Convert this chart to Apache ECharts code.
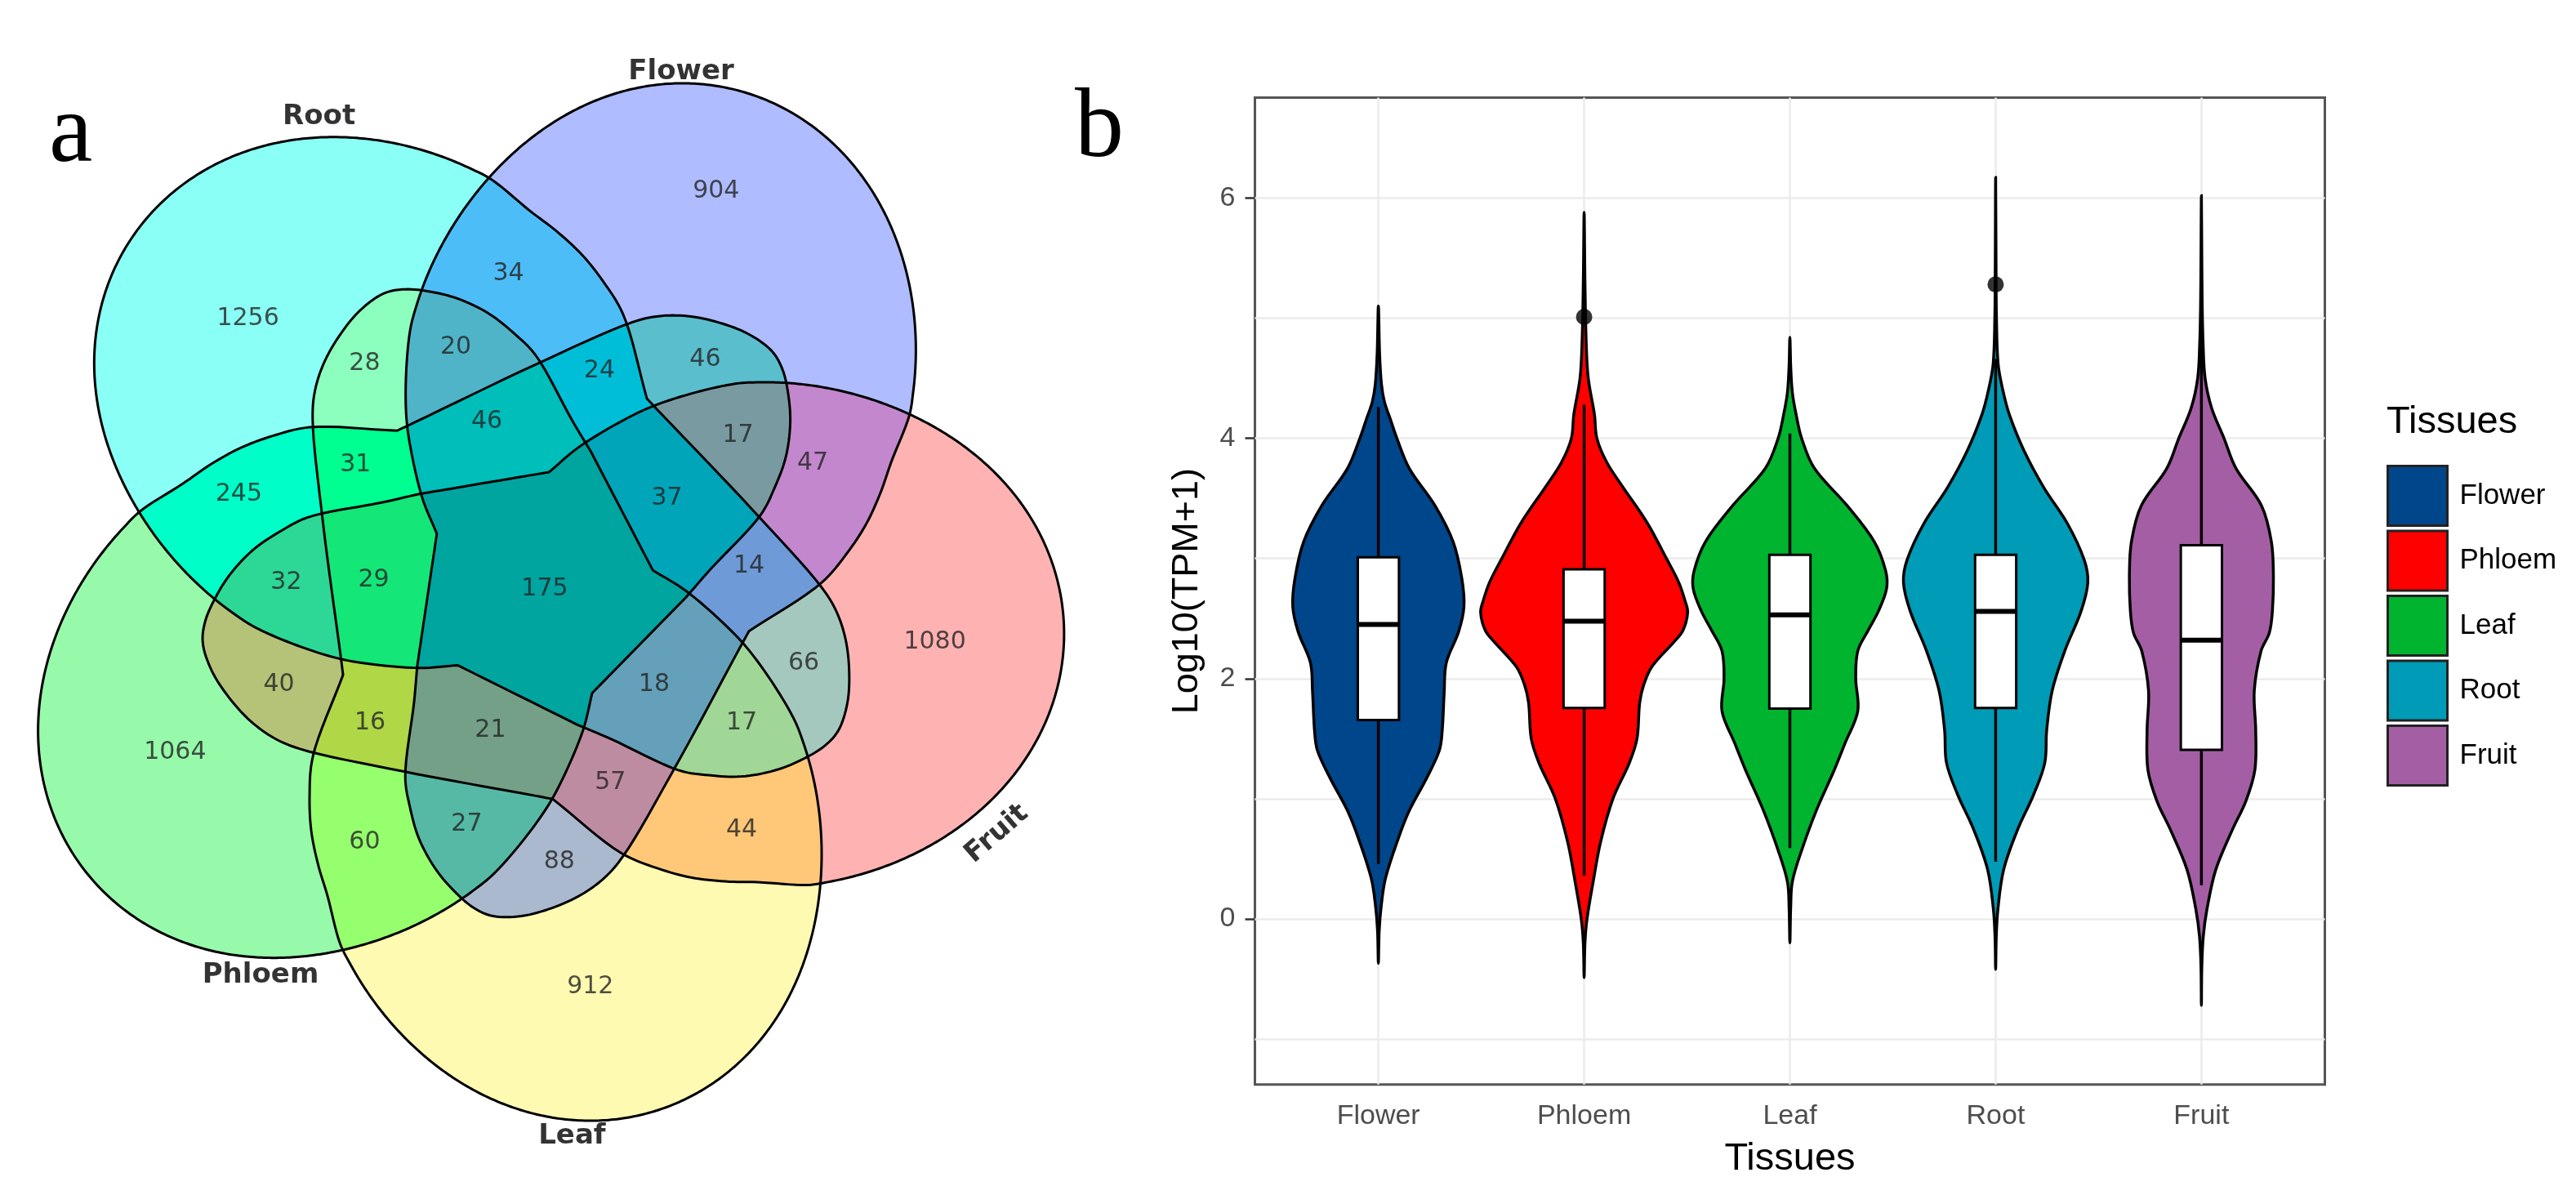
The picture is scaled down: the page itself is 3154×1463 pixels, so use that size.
<!DOCTYPE html>
<html><head><meta charset="utf-8">
<script src="https://cdn.jsdelivr.net/npm/echarts@6.0.0/dist/echarts.min.js"></script>
<style>html,body{margin:0;padding:0;background:#fff}#c{width:3154px;height:1463px}</style>
</head><body><div id="c"></div>
<script>
// ================= Panel a : five-set Venn =================
const vennSets = ['Root', 'Flower', 'Fruit', 'Leaf', 'Phloem'];
// region counts (singles, adjacent pairs, distant pairs, triples, quadruples, all five)
const vennCounts = [1256, 904, 1080, 912, 1064,
  34, 47, 44, 60, 245,
  28, 46, 66, 88, 40,
  20, 24, 17, 14, 17, 57, 27, 16, 32, 31,
  46, 37, 18, 21, 29,
  175];
// which sets (indices into vennSets) each region belongs to
const vennRegionSets = [[0], [1], [2], [3], [4],
  [0, 1], [1, 2], [2, 3], [3, 4], [4, 0],
  [0, 3], [1, 4], [2, 0], [3, 1], [4, 2],
  [0, 1, 3], [0, 1, 4], [1, 2, 4], [0, 1, 2], [0, 2, 3], [1, 2, 3], [1, 3, 4], [2, 3, 4], [0, 2, 4], [0, 3, 4],
  [0, 1, 3, 4], [0, 1, 2, 4], [0, 1, 2, 3], [1, 2, 3, 4], [0, 2, 3, 4],
  [0, 1, 2, 3, 4]];
const vennRegionColors = ['#8AFFF5', '#AFBCFF', '#FFB2B2', '#FFFAB2', '#96FAAA',
  '#4DBDF8', '#C387CD', '#FFC878', '#96FF6E', '#00FFC8',
  '#8CFFBE', '#5ABECD', '#A5C8BE', '#AAB9CD', '#B4C378',
  '#50B4C8', '#00BED7', '#789AA0', '#6E9BD7', '#A0D796', '#BE8CA0', '#55B9A5', '#AFD746', '#2DD796', '#00FF91',
  '#00BEB9', '#00A5B9', '#64A0B9', '#73A087', '#14E678',
  '#00A5A0'];
// label anchor of each region (venn layout space, centre = 0,0)
const vennLabelXY = [[-348.8, 318.3], [224.4, 473.7], [492.2, -78.5], [70.4, -500.4], [-438.1, -213.3],
  [-29.9, 373.3], [342.6, 141.3], [255.6, -308.2], [-206.0, -322.8], [-360.0, 103.1],
  [-206.0, 263.3], [211.0, 268.1], [331.6, -103.9], [32.4, -347.1], [-310.9, -130.6],
  [-94.4, 282.4], [81.5, 253.7], [251.2, 174.8], [264.6, 14.6], [255.6, -176.9], [94.9, -249.9], [-81.0, -300.9], [-199.3, -176.8], [-302.0, -5.6], [-217.1, 138.9],
  [-56.4, 191.5], [164.1, 98.3], [148.5, -130.6], [-52.0, -186.5], [-194.8, -2.2],
  [14.6, -12.9]];
const vennNameXY = [[-261.8, 564.6], [181.6, 619.6], [568.1, -312.9], [48.0, -682.9], [-333.4, -485.9]];
const vennNameRotate = [0, 0, 41, 0, 0];
// traced outline of one set (Root orientation): inner boundary (third value 1 = corner) and outer lobe;
// the other four sets are the same outline turned in 72 degree steps (plus a small shift each)
const vennInner = [[-3.4, 449.8], [28.0, 425.9], [59.2, 397.2], [86.0, 363.7], [110.6, 323.1],
  [139.6, 220.2, 1], [153.0, 205.9, 1], [269.0, 83.9],
  [353.9, -11.4], [371.7, -40.6], [382.9, -74.6], [387.3, -113.6], [385.1, -152.5], [373.9, -186.5],
  [356.1, -206.0], [327.1, -223.0], [295.8, -235.2], [255.6, -242.5], [215.5, -241.0], [179.6, -235.2],
  [94.9, -196.3], [54.6, -179.2, 1], [-92.1, -106.3, 1], [-139.0, -109.7], [-206.0, -103.9], [-243.9, -96.5],
  [-295.4, -79.5]];
const vennLobe = [[-339.9, -55.2], [-384.4, -32.9], [-411.4, -9.4], [-451.4, 38.5], [-489.4, 91.1],
  [-514.0, 143.7], [-529.6, 201.1], [-534.1, 263.3], [-529.6, 325.5], [-505.1, 392.4], [-464.9, 454.6],
  [-411.4, 497.6], [-339.9, 524.0], [-235.0, 538.3], [-116.7, 516.8], [-49.7, 490.5]];
const vennLobeCentre = [-250, 240];
const vennShift = [[0, 0], [12, 0], [8, -10], [10, -22], [0, -20]];

// ================= Panel b : violins =================
const tissues = ['Flower', 'Phloem', 'Leaf', 'Root', 'Fruit'];
const tissueColors = ['#00468B', '#FF0000', '#00B42F', '#009BB6', '#A45EA4'];
// density outline: [log10(TPM+1), half width]
const violinFlower = [[5.10, 0], [4.7, 0.006], [4.45, 0.015], [4.3, 0.03], [4.15, 0.06], [4.0, 0.09], [3.75, 0.15], [3.44, 0.275], [3.14, 0.363], [2.84, 0.405], [2.6, 0.416], [2.39, 0.39], [2.13, 0.33], [1.89, 0.32], [1.56, 0.31], [1.40, 0.296], [1.17, 0.234], [0.9, 0.15], [0.67, 0.097], [0.34, 0.035], [0.11, 0.014], [-0.1, 0.004], [-0.37, 0]];
const violinPhloem = [[5.88, 0], [5.3, 0.004], [4.8, 0.01], [4.5, 0.02], [4.2, 0.05], [4.0, 0.062], [3.8, 0.11], [3.6, 0.186], [3.3, 0.305], [3.0, 0.40], [2.8, 0.46], [2.65, 0.49], [2.55, 0.503], [2.4, 0.48], [2.3, 0.434], [2.1, 0.33], [1.95, 0.29], [1.8, 0.27], [1.5, 0.257], [1.3, 0.22], [1.0, 0.14], [0.64, 0.08], [0.31, 0.044], [0.0, 0.014], [-0.2, 0.004], [-0.49, 0]];
const violinLeaf = [[4.84, 0], [4.6, 0.004], [4.38, 0.012], [4.2, 0.03], [4.0, 0.057], [3.75, 0.119], [3.44, 0.278], [3.14, 0.41], [2.9, 0.465], [2.75, 0.47], [2.56, 0.43], [2.4, 0.38], [2.23, 0.33], [2.0, 0.32], [1.73, 0.33], [1.47, 0.27], [1.24, 0.216], [0.9, 0.128], [0.57, 0.057], [0.31, 0.012], [0.1, 0.004], [-0.2, 0]];
const violinRoot = [[6.17, 0], [5.4, 0.002], [5.0, 0.004], [4.62, 0.012], [4.4, 0.035], [4.2, 0.066], [3.9, 0.137], [3.59, 0.234], [3.29, 0.349], [2.99, 0.43], [2.8, 0.448], [2.56, 0.415], [2.23, 0.336], [1.9, 0.275], [1.57, 0.248], [1.3, 0.239], [1.04, 0.186], [0.74, 0.106], [0.41, 0.039], [0.08, 0.011], [-0.15, 0.003], [-0.42, 0]];
const violinFruit = [[6.02, 0], [5.5, 0.002], [5.1, 0.004], [4.8, 0.008], [4.5, 0.018], [4.25, 0.05], [4.0, 0.11], [3.75, 0.168], [3.44, 0.292], [3.14, 0.34], [2.85, 0.35], [2.56, 0.345], [2.38, 0.33], [2.23, 0.29], [1.9, 0.257], [1.57, 0.264], [1.24, 0.26], [0.98, 0.216], [0.74, 0.15], [0.41, 0.07], [0.08, 0.027], [-0.15, 0.009], [-0.4, 0.002], [-0.72, 0]];
// box stats: [lower whisker, Q1, median, Q3, upper whisker]
const boxFlower = [0.457, 1.655, 2.45, 3.01, 4.26];
const boxPhloem = [0.36, 1.755, 2.477, 2.91, 4.28];
const boxLeaf = [0.59, 1.75, 2.53, 3.03, 4.04];
const boxRoot = [0.476, 1.755, 2.56, 3.03, 4.66];
const boxFruit = [0.28, 1.407, 2.32, 3.11, 5.0];
const outliers = [[2, 5.01], [4, 5.28]];
const yTicks = [0, 2, 4, 6];
const yGrid = [-1, 0, 1, 2, 3, 4, 5, 6];

const violins = [violinFlower, violinPhloem, violinLeaf, violinRoot, violinFruit];
const boxes = [boxFlower, boxPhloem, boxLeaf, boxRoot, boxFruit];

// ---------- outline geometry helpers ----------
function crPoint(p0, p1, p2, p3, t) {
  const d = (a, b) => Math.max(Math.pow(Math.hypot(b[0] - a[0], b[1] - a[1]), 0.5), 1e-4);
  const t0 = 0, t1 = t0 + d(p0, p1), t2 = t1 + d(p1, p2), t3 = t2 + d(p2, p3);
  const tt = t1 + (t2 - t1) * t;
  const lerp = (a, b, ta, tb) => [((tb - tt) * a[0] + (tt - ta) * b[0]) / (tb - ta), ((tb - tt) * a[1] + (tt - ta) * b[1]) / (tb - ta)];
  const A1 = lerp(p0, p1, t0, t1), A2 = lerp(p1, p2, t1, t2), A3 = lerp(p2, p3, t2, t3);
  const B1 = lerp(A1, A2, t0, t2), B2 = lerp(A2, A3, t1, t3);
  return lerp(B1, B2, t1, t2);
}
function smoothLoop(pts, seg) {
  const n = pts.length, out = [];
  for (let i = 0; i < n; i++) {
    const p1 = pts[i], p2 = pts[(i + 1) % n];
    let p0 = pts[(i - 1 + n) % n], p3 = pts[(i + 2) % n];
    if (p1[2]) p0 = [2 * p1[0] - p2[0], 2 * p1[1] - p2[1]];
    if (p2[2]) p3 = [2 * p2[0] - p1[0], 2 * p2[1] - p1[1]];
    for (let s = 0; s < seg; s++) out.push(crPoint(p0, p1, p2, p3, s / seg));
  }
  return out;
}
// smooth radius curve r(theta) through the traced lobe (least squares, 2nd order Fourier)
function lobeCurve() {
  const c = vennLobeCentre;
  const basis = th => [1, Math.cos(th), Math.sin(th), Math.cos(2 * th), Math.sin(2 * th)];
  const N = 5, A = [], y = new Array(N).fill(0);
  for (let i = 0; i < N; i++) A.push(new Array(N).fill(0));
  const ths = [];
  vennLobe.forEach(p => {
    let th = Math.atan2(p[1] - c[1], p[0] - c[0]); if (th < 0) th += 2 * Math.PI;
    const r = Math.hypot(p[0] - c[0], p[1] - c[1]), b = basis(th);
    ths.push(th);
    for (let i = 0; i < N; i++) { y[i] += b[i] * r; for (let j = 0; j < N; j++) A[i][j] += b[i] * b[j]; }
  });
  for (let i = 0; i < N; i++) {
    let piv = i;
    for (let k = i + 1; k < N; k++) if (Math.abs(A[k][i]) > Math.abs(A[piv][i])) piv = k;
    [A[i], A[piv]] = [A[piv], A[i]]; [y[i], y[piv]] = [y[piv], y[i]];
    for (let k = i + 1; k < N; k++) {
      const f = A[k][i] / A[i][i];
      for (let j = i; j < N; j++) A[k][j] -= f * A[i][j];
      y[k] -= f * y[i];
    }
  }
  const x = new Array(N).fill(0);
  for (let i = N - 1; i >= 0; i--) {
    let s = y[i];
    for (let j = i + 1; j < N; j++) s -= A[i][j] * x[j];
    x[i] = s / A[i][i];
  }
  const pts = [], th0 = ths[0], th1 = ths[ths.length - 1], steps = 40;
  for (let k = 0; k <= steps; k++) {
    const th = th0 + (th1 - th0) * k / steps, b = basis(th);
    const r = b.reduce((s, v, i) => s + v * x[i], 0);
    pts.push([c[0] + r * Math.cos(th), c[1] + r * Math.sin(th)]);
  }
  return pts;
}
const vennBase = smoothLoop(vennInner.concat(lobeCurve()), 8);
function setOutline(k) {
  const a = -72 * k * Math.PI / 180, c = Math.cos(a), s = Math.sin(a), sh = vennShift[k];
  return vennBase.map(p => [p[0] * c - p[1] * s + sh[0], p[0] * s + p[1] * c + sh[1]]);
}
const vennOutlines = vennSets.map((n, k) => setOutline(k));

const vennFont = '"DejaVu Sans", sans-serif';
const ggFont = '"Liberation Sans", Arial, sans-serif';

const series = [];
// each region painted in its own colour: intersection of its sets via nested clipping,
// drawn from fewer to more sets so that deeper overlaps cover the shallower ones
series.push({
  type: 'custom', name: 'vennRegions', xAxisIndex: 0, yAxisIndex: 0, z: 1, silent: true,
  data: vennRegionSets.map((s, i) => [0, 0, i]),
  renderItem: function (params, api) {
    const i = params.dataIndex, sets = vennRegionSets[i];
    const px = k => vennOutlines[k].map(p => api.coord(p));
    let el = { type: 'polygon', shape: { points: px(sets[sets.length - 1]) }, style: { fill: vennRegionColors[i] } };
    for (let j = sets.length - 2; j >= 0; j--) {
      el = { type: 'group', clipPath: { type: 'polygon', shape: { points: px(sets[j]) } }, children: [el] };
    }
    return el;
  }
});
series.push({
  type: 'custom', name: 'vennLine', xAxisIndex: 0, yAxisIndex: 0, z: 2, silent: true,
  data: vennSets.map((n, i) => [0, 0, i]),
  renderItem: function (params, api) {
    const pts = vennOutlines[params.dataIndex].map(p => api.coord(p));
    return { type: 'polygon', shape: { points: pts }, style: { fill: 'none', stroke: '#000', lineWidth: 3, lineJoin: 'round' } };
  }
});
series.push({
  type: 'scatter', name: 'vennCounts', xAxisIndex: 0, yAxisIndex: 0, z: 3, silent: true,
  symbolSize: 1, itemStyle: { color: 'rgba(0,0,0,0)' },
  data: vennLabelXY.map((p, i) => [p[0], p[1], vennCounts[i]]),
  label: { show: true, position: 'inside', formatter: p => String(p.value[2]), fontFamily: vennFont, fontSize: 30, color: '#232323' }
});
series.push({
  type: 'scatter', name: 'vennNames', xAxisIndex: 0, yAxisIndex: 0, z: 3, silent: true,
  symbolSize: 1, itemStyle: { color: 'rgba(0,0,0,0)' },
  data: vennNameXY.map((p, i) => ({ value: [p[0], p[1]], name: vennSets[i], label: { rotate: vennNameRotate[i] } })),
  label: { show: true, position: 'inside', formatter: p => p.name, fontFamily: vennFont, fontSize: 34, fontWeight: 'bold', color: '#000' }
});

tissues.forEach((t, ti) => {
  const prof = violins[ti], box = boxes[ti], cat = ti + 1;
  series.push({
    type: 'custom', name: t, xAxisIndex: 1, yAxisIndex: 1, z: 5, silent: true,
    itemStyle: { color: tissueColors[ti] },
    data: [[cat, box[2]]],
    renderItem: function (params, api) {
      const right = prof.map(p => api.coord([cat + p[1], p[0]]));
      const left = prof.slice(1, prof.length - 1).reverse().map(p => api.coord([cat - p[1], p[0]]));
      const bw = 0.1;
      const pTL = api.coord([cat - bw, box[3]]);
      const pBR = api.coord([cat + bw, box[1]]);
      const top = api.coord([cat, box[4]]), q3 = api.coord([cat, box[3]]);
      const q1 = api.coord([cat, box[1]]), low = api.coord([cat, box[0]]);
      const mL = api.coord([cat - bw, box[2]]), mR = api.coord([cat + bw, box[2]]);
      return {
        type: 'group', children: [
          { type: 'polygon', shape: { points: right.concat(left), smooth: 0.35 }, style: { fill: tissueColors[ti], stroke: '#000', lineWidth: 3.5 } },
          { type: 'line', shape: { x1: top[0], y1: top[1], x2: q3[0], y2: q3[1] }, style: { stroke: '#000', lineWidth: 3.5 } },
          { type: 'line', shape: { x1: q1[0], y1: q1[1], x2: low[0], y2: low[1] }, style: { stroke: '#000', lineWidth: 3.5 } },
          { type: 'rect', shape: { x: pTL[0], y: pTL[1], width: pBR[0] - pTL[0], height: pBR[1] - pTL[1] }, style: { fill: '#fff', stroke: '#000', lineWidth: 3 } },
          { type: 'line', shape: { x1: mL[0], y1: mL[1], x2: mR[0], y2: mR[1] }, style: { stroke: '#000', lineWidth: 6 } }
        ]
      };
    }
  });
});

const gridLineData = yGrid.map(v => ({ yAxis: v })).concat(tissues.map((t, i) => ({ xAxis: i + 1 })));
series.push({
  type: 'scatter', name: 'outliers', xAxisIndex: 1, yAxisIndex: 1, z: 8, silent: true,
  symbolSize: 20, itemStyle: { color: '#000' },
  data: outliers,
  markLine: {
    silent: true, symbol: 'none', z: 1, animation: false,
    label: { show: false },
    lineStyle: { color: '#EBEBEB', width: 2.5, type: 'solid' },
    emphasis: { disabled: true },
    data: gridLineData
  }
});

const option = {
  animation: false,
  backgroundColor: '#fff',
  grid: [
    { left: 0, top: 0, width: 1300, height: 1463, show: false },
    { left: 1536.5, top: 119.4, width: 1310, height: 1208.4, show: true, borderColor: '#555', borderWidth: 3, backgroundColor: 'transparent' }
  ],
  xAxis: [
    { gridIndex: 0, type: 'value', min: -652.4, max: 647.6, show: false },
    {
      gridIndex: 1, type: 'value', min: 0.4, max: 5.6,
      axisLine: { show: false }, splitLine: { show: false },
      axisTick: { show: true, customValues: [1, 2, 3, 4, 5], length: 12, lineStyle: { color: '#333', width: 2.5 } },
      axisLabel: { customValues: [1, 2, 3, 4, 5], formatter: v => tissues[Math.round(v) - 1], fontFamily: ggFont, fontSize: 34, color: '#4D4D4D', margin: 22 },
      name: 'Tissues', nameLocation: 'middle', nameGap: 68,
      nameTextStyle: { fontFamily: ggFont, fontSize: 47, color: '#000' }
    }
  ],
  yAxis: [
    { gridIndex: 0, type: 'value', min: -754.9, max: 708.1, show: false },
    {
      gridIndex: 1, type: 'value', min: -1.379, max: 6.836,
      axisLine: { show: false }, splitLine: { show: false },
      axisTick: { show: true, customValues: yTicks, length: 12, lineStyle: { color: '#333', width: 2.5 } },
      axisLabel: { customValues: yTicks, fontFamily: ggFont, fontSize: 34, color: '#4D4D4D', margin: 24 },
      name: 'Log10(TPM+1)', nameLocation: 'middle', nameGap: 60, nameRotate: 90,
      nameTextStyle: { fontFamily: ggFont, fontSize: 45, color: '#000' }
    }
  ],
  legend: {
    data: tissues, orient: 'vertical', left: 2922, top: 569, padding: 0,
    itemWidth: 73, itemHeight: 73, itemGap: 3.5, icon: 'rect', selectedMode: false,
    itemStyle: { borderColor: '#222', borderWidth: 3 },
    textStyle: { fontFamily: ggFont, fontSize: 35, color: '#000', padding: [0, 0, 0, 10] }
  },
  graphic: [
    { type: 'text', left: 60, top: 105, style: { text: 'a', font: '120px "Liberation Serif", serif', fill: '#000' } },
    { type: 'text', left: 1316, top: 99, style: { text: 'b', font: '120px "Liberation Serif", serif', fill: '#000' } },
    { type: 'text', left: 2922, top: 494, style: { text: 'Tissues', font: '47px "Liberation Sans", Arial, sans-serif', fill: '#000' } }
  ],
  series: series
};

const chart = echarts.init(document.getElementById('c'), null, { renderer: 'canvas', width: 3154, height: 1463 });
chart.setOption(option);
</script>
</body></html>
